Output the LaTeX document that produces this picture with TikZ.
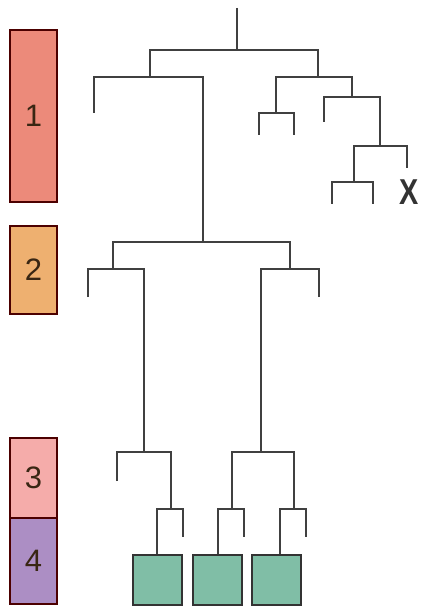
\documentclass[tikz,border=0pt]{standalone}
\usepackage{fontspec}
\setmainfont{Liberation Sans}
\begin{document}
\begin{tikzpicture}[x=1pt,y=-1pt,
  line/.style={draw=black!75, line width=2.2pt},
  band/.style={draw=black!70!red, line width=1.8pt, minimum width=47pt, inner sep=0pt, font=\fontsize{31}{31}\selectfont, text=black!70!brown},
  leafbox/.style={draw=black!80, line width=2pt, fill=leafgreen, minimum width=49pt, minimum height=50pt, inner sep=0pt}]
\definecolor{c1}{RGB}{236,138,122}
\definecolor{c2}{RGB}{238,176,112}
\definecolor{c3}{RGB}{245,172,170}
\definecolor{c4}{RGB}{172,142,196}
\definecolor{leafgreen}{RGB}{128,190,166}
\useasboundingbox (0,0) rectangle (423,609);
% bands
\node[band, fill=c1, minimum height=172pt] (b1) at (33.5,116) {1};
\node[band, fill=c2, minimum height=88pt] (b2) at (33.5,270) {2};
\node[band, fill=c3, minimum height=80pt] (b3) at (33.5,478) {3};
\node[band, fill=c4, minimum height=86pt] (b4) at (33.5,561) {4};
% leaf boxes
\node[leafbox] (g1) at (157.5,580) {};
\node[leafbox] (g2) at (217,580) {};
\node[leafbox] (g3) at (276.5,580) {};
% X label
\node[font=\fontsize{36}{36}\selectfont\bfseries, text=black!80, inner sep=0pt, xscale=0.8] (x) at (409,192) {X};
% dendrogram
\coordinate (root) at (237,8);
\draw[line] (root) -- (237,50);
\draw[line] (150,77) |- (318,50) -- (318,77);
% left big branch
\draw[line] (94,113) |- (203,77) -- (203,242);
% right branch
\draw[line] (276,113) |- (352,77) -- (352,97);
\draw[line] (259,135) |- (294,113) -- (294,135);
\draw[line] (324,122) |- (380,97) -- (380,146);
\draw[line] (354,182) |- (407,146) -- (407,168);
\draw[line] (332,204) |- (373,182) -- (373,204);
% lower
\draw[line] (113,269) |- (290,242) -- (290,269);
\draw[line] (88,297) |- (144,269) -- (144,452);
\draw[line] (319,297) |- (261,269) -- (261,452);
\draw[line] (117,481) |- (171,452) -- (171,509);
\draw[line] (232,509) |- (294,452) -- (294,509);
\draw[line] (g1.north -| 157,0) |- (183,509) -- (183,537);
\draw[line] (g2.north -| 218,0) |- (244,509) -- (244,537);
\draw[line] (g3.north -| 280,0) |- (306,509) -- (306,537);
\end{tikzpicture}
\end{document}
